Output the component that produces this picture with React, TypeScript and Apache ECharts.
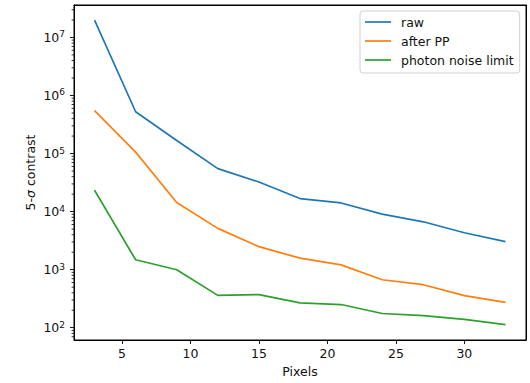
import React, { useEffect, useRef } from "react";
import * as echarts from "echarts";

const pixels = [3, 6, 9, 12, 15, 18, 21, 24, 27, 30, 33];
const raw = [1.98e7, 5.25e5, 1.68e5, 5.5e4, 3.24e4, 1.68e4, 1.41e4, 9.06e3, 6.68e3, 4.33e3, 3.04e3];
const afterPP = [5.47e5, 1.06e5, 1.44e4, 5.15e3, 2.49e3, 1.58e3, 1.21e3, 671, 551, 357, 274];
const photon = [2.33e4, 1.48e3, 996, 361, 372, 268, 251, 176, 162, 139, 113];

const xTicks = [5, 10, 15, 20, 25, 30];
const yTicks = [1e2, 1e3, 1e4, 1e5, 1e6, 1e7];
const yMinorTicks: number[] = [];
for (let k = 1; k <= 7; k++) {
  for (let m = 2; m <= 9; m++) {
    const v = m * Math.pow(10, k);
    if (v > 61.5 && v < 3.62e7) yMinorTicks.push(v);
  }
}

const X_MIN = 1.5;
const X_MAX = 34.5;
const Y_MIN = 61.5;
const Y_MAX = 3.62e7;

const FONT = "DejaVu Sans";
const TXT = "#111";
const FS = 12.5;

const frameLine = () => ({ show: true, onZero: false, lineStyle: { color: "#000", width: 1 } });

export default function App() {
  const ref = useRef<HTMLDivElement>(null);
  useEffect(() => {
    if (!ref.current) return;
    const chart = echarts.init(ref.current, null, { renderer: "svg" });
    const mk = (name: string, data: number[], color: string) => ({
      name,
      type: "line",
      data: pixels.map((p, i) => [p, data[i]]),
      symbol: "none",
      showSymbol: false,
      lineStyle: { color, width: 1.7 },
      itemStyle: { color },
    });
    chart.setOption({
      animation: false,
      textStyle: { fontFamily: FONT },
      grid: { left: 74, right: 4, top: 5, bottom: 42, show: true, borderColor: "#000", borderWidth: 1 },
      legend: {
        orient: "vertical",
        left: 360,
        top: 11,
        padding: [4, 6, 6, 5],
        icon: "rect",
        itemWidth: 26,
        itemHeight: 1.7,
        itemGap: 5,
        borderColor: "#d0d0d0",
        borderWidth: 1,
        borderRadius: 3,
        backgroundColor: "rgba(255,255,255,0.8)",
        textStyle: { fontFamily: FONT, fontSize: FS, lineHeight: 14, color: TXT, padding: [0, 0, 0, 5] },
        data: ["raw", "after PP", "photon noise limit"],
      },
      xAxis: [
        {
          type: "value",
          position: "bottom",
          min: X_MIN,
          max: X_MAX,
          name: "Pixels",
          nameLocation: "middle",
          nameGap: 25,
          nameMoveOverlap: false,
          nameTextStyle: { fontFamily: FONT, fontSize: FS, color: TXT },
          axisLine: frameLine(),
          splitLine: { show: false },
          axisTick: { show: true, length: 4, lineStyle: { color: "#000", width: 0.9 }, customValues: xTicks },
          axisLabel: { fontFamily: FONT, fontSize: FS, color: TXT, margin: 7, customValues: xTicks },
        },
        {
          type: "value",
          position: "top",
          min: X_MIN,
          max: X_MAX,
          axisLine: frameLine(),
          splitLine: { show: false },
          axisTick: { show: false },
          axisLabel: { show: false },
        },
      ],
      yAxis: [
        {
          type: "log",
          logBase: 10,
          position: "left",
          min: Y_MIN,
          max: Y_MAX,
          name: "5-{i|σ} contrast",
          nameLocation: "middle",
          nameGap: 37,
          nameMoveOverlap: false,
          nameTextStyle: {
            fontFamily: FONT,
            fontSize: FS,
            color: TXT,
            rich: { i: { fontFamily: FONT, fontSize: FS, color: TXT, fontStyle: "italic" } },
          },
          axisLine: frameLine(),
          splitLine: { show: false },
          axisTick: { show: true, length: 4, lineStyle: { color: "#000", width: 0.9 }, customValues: yTicks },
          axisLabel: {
            fontFamily: FONT,
            color: TXT,
            margin: 9,
            customValues: yTicks,
            formatter: (v: number) => `{b|10}{s|${Math.round(Math.log10(v))}}`,
            rich: {
              b: { fontFamily: FONT, fontSize: FS, color: TXT },
              s: { fontFamily: FONT, fontSize: 9, color: TXT, verticalAlign: "top", padding: [0, 0, 6, 0] },
            },
          },
        },
        {
          type: "log",
          logBase: 10,
          position: "right",
          min: Y_MIN,
          max: Y_MAX,
          axisLine: frameLine(),
          splitLine: { show: false },
          axisLabel: { show: false },
          axisTick: { show: false },
        },
      ],
      series: [
        mk("raw", raw, "#1f77b4"),
        mk("after PP", afterPP, "#ff7f0e"),
        mk("photon noise limit", photon, "#2ca02c"),
        {
          type: "custom",
          clip: false,
          z: 10,
          data: yMinorTicks.map((v) => [X_MIN, v]),
          renderItem: (params: any, api: any) => {
            const p = api.coord([api.value(0), api.value(1)]);
            return {
              type: "line",
              shape: { x1: p[0] - 2.4, y1: p[1], x2: p[0], y2: p[1] },
              style: { stroke: "#000", lineWidth: 0.8 },
            };
          },
        },
      ],
    });
    return () => chart.dispose();
  }, []);
  return (
    <div
      ref={ref}
      style={{ position: "fixed", left: 0, top: 0, width: 530, height: 383, background: "#fff" }}
    />
  );
}
